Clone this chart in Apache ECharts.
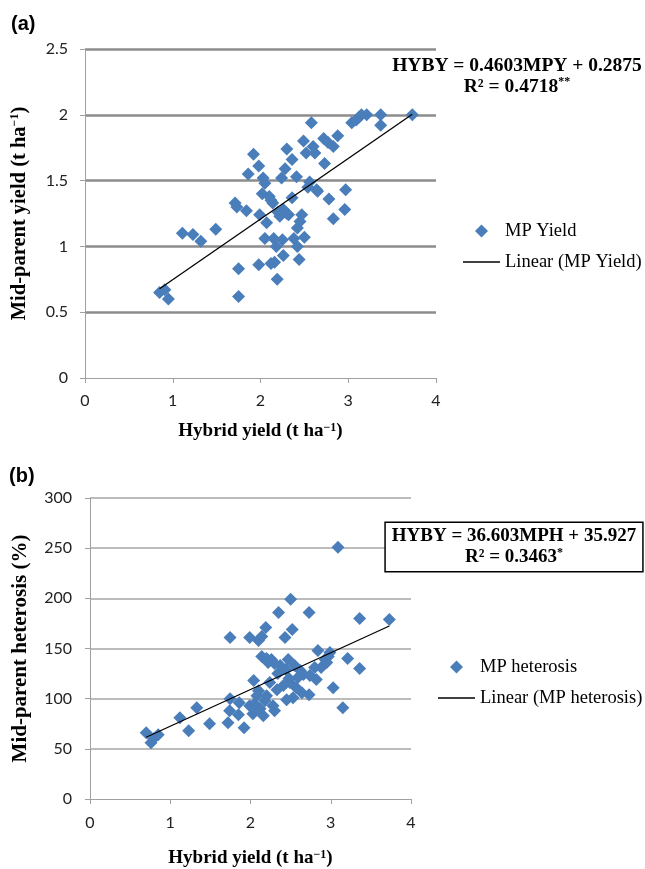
<!DOCTYPE html>
<html>
<head>
<meta charset="utf-8">
<script src="https://cdn.jsdelivr.net/npm/echarts@6/dist/echarts.min.js"></script>
<style>
html, body { margin: 0; padding: 0; background: #fff; }
#chart { width: 645px; height: 869px; }
</style>
</head>
<body>
<div id="chart"></div>
<script>
// panel (a): hybrid yield vs mid-parent yield
var hybridA = [0.85,0.91,0.95,1.11,1.23,1.32,1.49,1.71,1.73,1.75,1.75,1.84,1.86,1.92,1.98,1.99,1.98,2.03,2.05,2.02,
    2.05,2.07,2.10,2.12,2.14,2.16,2.15,2.18,2.19,2.22,2.24,2.26,2.25,2.28,2.30,2.30,2.36,2.36,2.41,2.38,
    2.42,2.42,2.44,2.47,2.50,2.49,2.52,2.54,2.56,2.58,2.60,2.62,2.65,2.72,2.73,2.77,2.78,2.83,2.83,2.88,
    2.97,2.96,3.04,3.09,3.15,3.21,3.37,3.37,3.73,2.26,2.45,2.64,2.12,2.20,2.32,3.12];
var mpYield = [0.65,0.67,0.60,1.10,1.09,1.04,1.13,1.33,1.30,0.83,0.62,1.27,1.55,1.70,1.61,1.24,0.86,1.52,1.48,1.40,
    1.06,1.18,1.38,0.87,1.33,0.88,1.06,1.00,0.75,1.23,1.52,0.93,1.05,1.59,1.74,1.25,1.66,1.37,1.53,1.06,
    1.00,1.14,0.90,1.24,1.07,1.80,1.71,1.45,1.49,1.94,1.76,1.71,1.42,1.82,1.63,1.79,1.36,1.76,1.21,1.84,
    1.43,1.28,1.94,1.96,2.00,2.00,2.00,1.92,2.00,1.28,1.19,1.43,1.35,1.26,1.24,1.98];
var slopeA = 0.4603, interceptA = 0.2875, trendRangeA = [0.85, 3.73];

// panel (b): hybrid yield vs mid-parent heterosis
var hybridB = [0.70,0.76,0.79,0.85,1.12,1.23,1.33,1.49,1.72,1.74,1.745,1.745,1.85,1.86,1.92,1.99,1.99,2.03,2.04,2.08,
    2.10,2.14,2.19,2.14,2.20,2.22,2.12,2.16,2.20,2.26,2.24,2.28,2.30,2.33,2.35,2.37,2.41,2.44,2.43,2.45,
    2.47,2.49,2.50,2.52,2.53,2.55,2.57,2.59,2.64,2.66,2.73,2.73,2.74,2.80,2.82,2.84,2.88,2.93,2.97,2.99,
    3.03,3.09,3.15,3.21,3.36,3.36,3.73,2.05,2.18,2.34,2.62,2.48,2.30,2.10,2.95];
var mpHeterosis = [66,56,60,64,81,68,91,75,76,88,100,161,84,96,71,161,93,85,118,103,
    158,162,171,142,140,136,90,83,103,139,116,93,88,109,186,133,113,129,161,99,
    139,116,199,169,101,133,111,121,106,124,186,104,123,131,119,148,131,139,142,146,
    111,251,91,140,180,130,179,95,98,125,128,120,135,108,136];
var slopeB = 36.603, interceptB = 35.927, trendRangeB = [0.70, 3.73];

var xTicks = [0, 1, 2, 3, 4];
var yTicksA = [0, 0.5, 1, 1.5, 2, 2.5];
var yTicksB = [0, 50, 100, 150, 200, 250, 300];

var blue = '#4a7ebb';
var serif = '"Liberation Serif", "Times New Roman", serif';
var sans = 'Lato, "Liberation Sans", sans-serif';
var diamondIcon = 'path://M0,-1L1,0L0,1L-1,0Z';
var lineIcon = 'path://M0,0L37,0L37,1.3L0,1.3Z';

function zip(xs, ys) {
    var out = [];
    for (var i = 0; i < xs.length; i++) out.push([xs[i], ys[i]]);
    return out;
}
function trend(slope, icpt, range) {
    return range.map(function (x) { return [x, slope * x + icpt]; });
}

var supStyle = { fontSize: 12, fontWeight: 'bold', fontFamily: serif, color: '#000', verticalAlign: 'top', lineHeight: 14 };
function nameStyle(size) {
    return { fontFamily: serif, fontWeight: 'bold', fontSize: size, color: '#000', rich: { sup: supStyle } };
}

function xAxisOf(idx, gap, margin) {
    return {
        gridIndex: idx, type: 'value', min: xTicks[0], max: xTicks[xTicks.length - 1], interval: 1,
        name: 'Hybrid yield (t ha{sup|\u22121})', nameLocation: 'middle', nameGap: gap, nameTextStyle: nameStyle(19),
        axisLine: { show: true, lineStyle: { color: '#a0a0a0', width: 1 } },
        axisTick: { show: true, length: 5, lineStyle: { color: '#a0a0a0' } },
        axisLabel: { margin: margin, fontFamily: sans, fontSize: 16, color: '#222' },
        splitLine: { show: false }
    };
}
function yAxisOf(idx, ticks, name, gap, margin, gridColor, gridWidth, nameSize) {
    return {
        gridIndex: idx, type: 'value', min: ticks[0], max: ticks[ticks.length - 1], interval: ticks[1] - ticks[0],
        name: name, nameLocation: 'middle', nameGap: gap, nameRotate: 90, nameTextStyle: nameStyle(nameSize),
        axisLine: { show: true, onZero: false, lineStyle: { color: '#a0a0a0', width: 1 } },
        axisTick: { show: true, length: 5, lineStyle: { color: '#a0a0a0' } },
        axisLabel: { margin: margin, fontFamily: sans, fontSize: 16, color: '#222' },
        splitLine: { show: true, showMinLine: false, lineStyle: { color: gridColor, width: gridWidth } }
    };
}

var legendBase = {
    orient: 'vertical', itemWidth: 37, itemHeight: 13, itemGap: 11, padding: 0, selectedMode: false, symbolKeepAspect: true,
    textStyle: { fontFamily: serif, fontSize: 18.5, color: '#000', lineHeight: 20 }
};

var option = {
    animation: false,
    backgroundColor: '#fff',
    grid: [
        { left: 85, top: 49, width: 351, height: 329 },
        { left: 90, top: 498, width: 321, height: 302 }
    ],
    xAxis: [xAxisOf(0, 44, 15), xAxisOf(1, 50, 16)],
    yAxis: [
        yAxisOf(0, yTicksA, 'Mid-parent yield (t ha{sup|\u22121})', 55, 17, '#8c8c8c', 2.5, 20.5),
        yAxisOf(1, yTicksB, 'Mid-parent heterosis (%)', 59, 18, '#a6a6a6', 1.5, 21)
    ],
    legend: [
        Object.assign({}, legendBase, { left: 463, top: 221, data: [
            { name: 'MP Yield', icon: diamondIcon },
            { name: 'Linear (MP Yield)', icon: lineIcon }
        ] }),
        Object.assign({}, legendBase, { left: 438, top: 657, data: [
            { name: 'MP heterosis', icon: diamondIcon },
            { name: 'Linear (MP heterosis)', icon: lineIcon }
        ] })
    ],
    graphic: [
        { type: 'text', left: 11, top: 14, style: { text: '(a)', font: 'bold 20px "Liberation Sans"', fill: '#000' } },
        { type: 'text', left: 9, top: 466, style: { text: '(b)', font: 'bold 20px "Liberation Sans"', fill: '#000' } },
        {
            type: 'text', x: 517, y: 76, z: 100,
            style: {
                text: 'HYBY = 0.4603MPY + 0.2875\nR\u00b2 = 0.4718{sup|**}',
                font: 'bold 19.5px ' + serif, fill: '#000', align: 'center', verticalAlign: 'middle', lineHeight: 21,
                rich: { sup: supStyle }
            }
        },
        {
            type: 'text', x: 514, y: 547, z: 100,
            style: {
                text: 'HYBY = 36.603MPH + 35.927\nR\u00b2 = 0.3463{sup|*}',
                font: 'bold 19px ' + serif, fill: '#000', align: 'center', verticalAlign: 'middle', lineHeight: 21,
                backgroundColor: '#fff', borderColor: '#000', borderWidth: 1.5, padding: [3, 6],
                rich: { sup: supStyle }
            }
        }
    ],
    series: [
        {
            name: 'MP Yield', type: 'scatter', xAxisIndex: 0, yAxisIndex: 0,
            symbol: 'diamond', symbolSize: 13, itemStyle: { color: blue, opacity: 1 },
            data: zip(hybridA, mpYield)
        },
        {
            name: 'Linear (MP Yield)', type: 'line', xAxisIndex: 0, yAxisIndex: 0, z: 5,
            symbol: 'none', lineStyle: { color: '#000', width: 1.3 }, itemStyle: { color: '#000' },
            data: trend(slopeA, interceptA, trendRangeA)
        },
        {
            name: 'MP heterosis', type: 'scatter', xAxisIndex: 1, yAxisIndex: 1,
            symbol: 'diamond', symbolSize: 13, itemStyle: { color: blue, opacity: 1 },
            data: zip(hybridB, mpHeterosis)
        },
        {
            name: 'Linear (MP heterosis)', type: 'line', xAxisIndex: 1, yAxisIndex: 1, z: 5,
            symbol: 'none', lineStyle: { color: '#000', width: 1.3 }, itemStyle: { color: '#000' },
            data: trend(slopeB, interceptB, trendRangeB)
        }
    ]
};

var myChart = echarts.init(document.getElementById('chart'));
myChart.setOption(option);
</script>
</body>
</html>
